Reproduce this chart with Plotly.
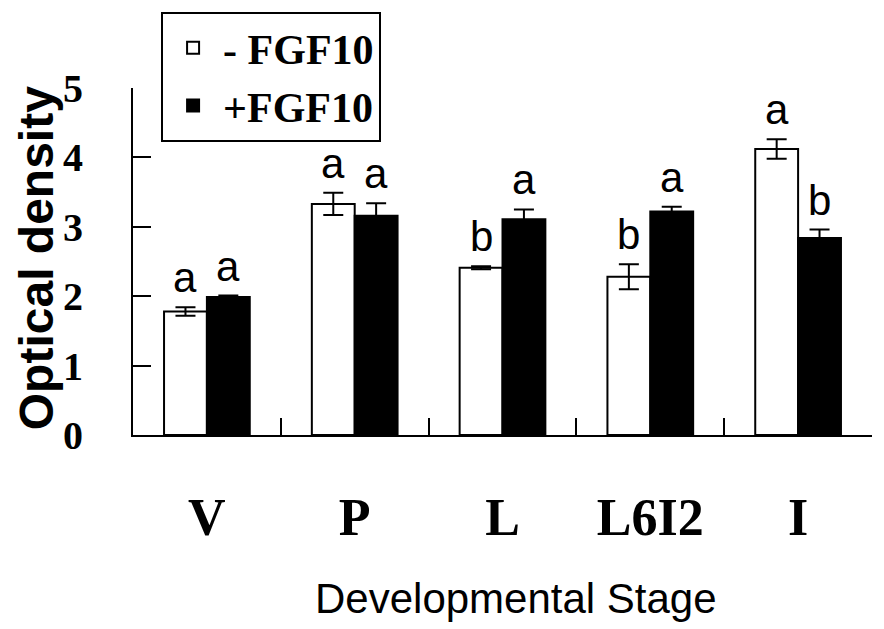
import plotly.graph_objects as go

stages = ["V", "P", "L", "L6I2", "I"]

minus_vals = [1.78, 3.33, 2.41, 2.28, 4.12]
minus_err = [0.06, 0.16, 0.02, 0.18, 0.14]
minus_letters = ["a", "a", "b", "b", "a"]

plus_vals = [1.99, 3.16, 3.11, 3.22, 2.84]
plus_err = [0.02, 0.18, 0.14, 0.07, 0.12]
plus_letters = ["a", "a", "a", "a", "b"]

SERIF = "Liberation Serif"
SANS = "Liberation Sans"

fig = go.Figure()
fig.add_trace(go.Bar(
    x=stages, y=minus_vals, name="- FGF10",
    marker=dict(color="white", line=dict(color="black", width=2)),
    error_y=dict(type="data", array=minus_err, color="black", thickness=2, width=10),
))
fig.add_trace(go.Bar(
    x=stages, y=plus_vals, name="+FGF10",
    marker=dict(color="black", line=dict(color="black", width=2)),
    error_y=dict(type="data", array=plus_err, color="black", thickness=2, width=10),
))

# significance letters above each bar (offset = quarter of the group width)
bargap = 0.42
off = (1 - bargap) / 4
for i in range(len(stages)):
    for val, err, letters, sign in [(minus_vals, minus_err, minus_letters, -1),
                                    (plus_vals, plus_err, plus_letters, 1)]:
        fig.add_annotation(
            x=i + sign * off, y=val[i] + err[i], text=letters[i],
            showarrow=False, yanchor="bottom", yshift=4,
            font=dict(family=SANS, size=42, color="black"),
        )

fig.add_annotation(
    text="Optical density", textangle=-90, xref="paper", yref="paper",
    x=-0.131, y=0.51, xanchor="center", yanchor="middle", showarrow=False,
    font=dict(family=SANS, size=48, color="black", weight="bold"),
)
fig.add_annotation(
    text="Developmental Stage", xref="paper", yref="paper",
    x=0.518, y=-0.47, xanchor="center", yanchor="middle", showarrow=False,
    font=dict(family=SANS, size=42, color="black"),
)

# page body has an 8px margin, so the figure is 8px smaller than the window
fig.update_layout(
    width=876, height=621,
    margin=dict(l=125, r=12, t=80, b=194, autoexpand=False),
    paper_bgcolor="white", plot_bgcolor="white",
    barmode="group", bargap=bargap, bargroupgap=0,
    legend=dict(
        x=0.038, y=1.219, xanchor="left", yanchor="top",
        bordercolor="black", borderwidth=2, bgcolor="white",
        font=dict(family=SERIF, size=42, color="black", weight="bold"),
        traceorder="normal", itemwidth=50, tracegroupgap=0,
    ),
    xaxis=dict(
        showline=True, linecolor="black", linewidth=2,
        ticks="inside", tickson="boundaries", ticklen=17, tickwidth=2, tickcolor="black",
        showgrid=False, ticklabelstandoff=36,
        tickfont=dict(family=SERIF, size=52, color="black", weight="bold"),
    ),
    yaxis=dict(
        range=[0, 5], dtick=1, showline=True, linecolor="black", linewidth=2,
        ticks="inside", ticklen=18, tickwidth=2, tickcolor="black",
        showgrid=False, zeroline=False, ticklabelstandoff=40,
        tickfont=dict(family=SERIF, size=40, color="black", weight="bold"),
    ),
)

fig.write_html("out.html")
